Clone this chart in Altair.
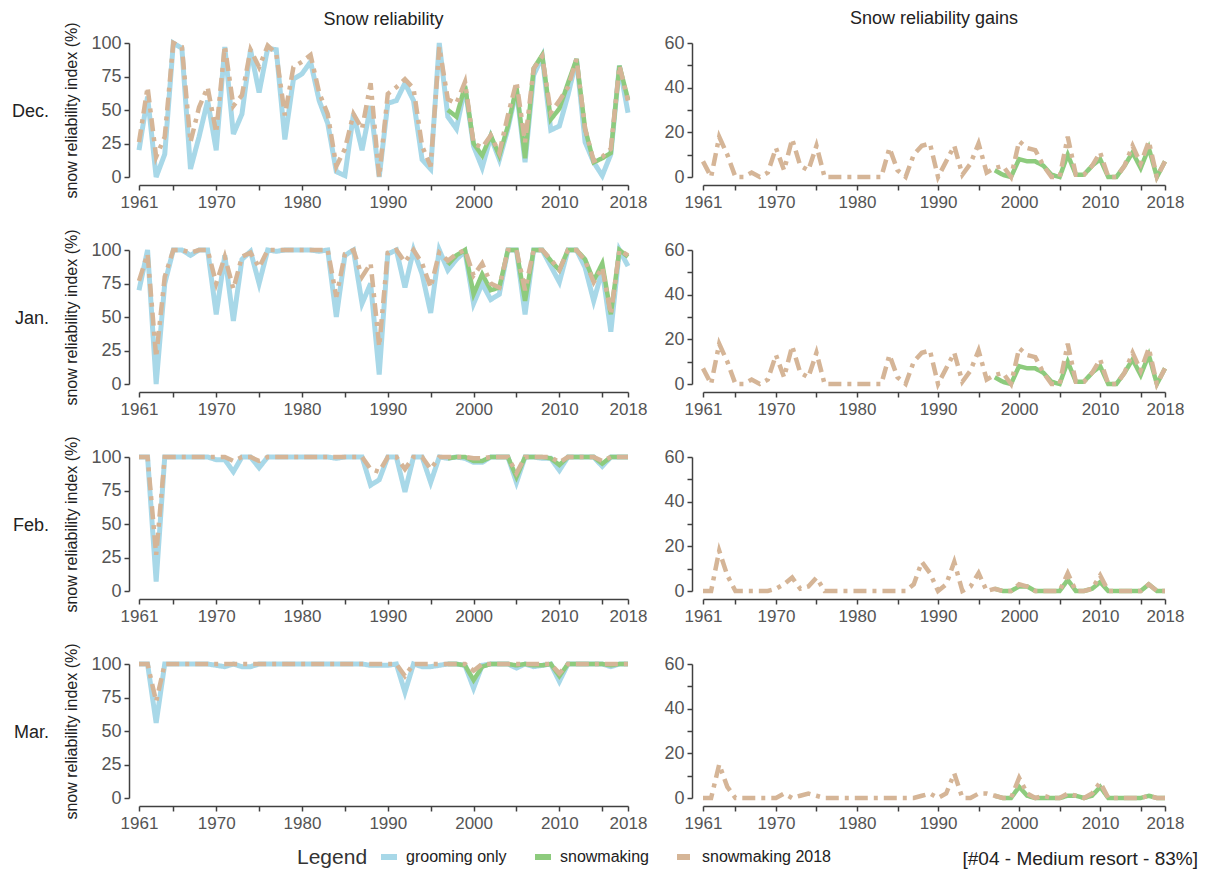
import altair as alt
import pandas as pd

# ---------------- data ----------------
years = list(range(1961, 2019))
sm_years = list(range(1997, 2019))
months = ["Dec.", "Jan.", "Feb.", "Mar."]
series_names = ["grooming only", "snowmaking", "snowmaking 2018"]
series_colors = ["#a8d8e8", "#8dcb7d", "#d5b597"]
series_dash = [[1, 0], [1, 0], [13, 6, 4, 6]]

x_tick_values = [1961, 1965, 1970, 1975, 1980, 1985, 1990, 1995, 2000, 2005, 2010, 2015, 2018]
x_label_values = [1961, 1970, 1980, 1990, 2000, 2010, 2018]
rel_ticks = [0, 25, 50, 75, 100]
gain_ticks = [0, 10, 20, 30, 40, 50, 60]
gain_label_values = [0, 20, 40, 60]

# snow reliability index (%), 1961-2018
dec_grooming = [20, 60, 0, 17, 100, 96, 6, 30, 57, 20,
                97, 32, 47, 95, 63, 96, 95, 28, 73, 77,
                86, 57, 40, 4, 1, 47, 20, 53, 0, 55,
                57, 70, 57, 13, 6, 100, 45, 36, 67, 23,
                7, 30, 13, 36, 65, 11, 76, 90, 35, 38,
                61, 88, 26, 11, 1, 17, 83, 48]
dec_sm2018 = [26, 67, 15, 30, 100, 97, 26, 52, 67, 33,
              98, 53, 61, 95, 82, 98, 92, 46, 82, 86,
              91, 63, 47, 8, 21, 47, 36, 70, 0, 62,
              67, 73, 66, 23, 8, 97, 58, 55, 71, 25,
              22, 31, 18, 46, 71, 26, 81, 90, 48, 57,
              67, 88, 36, 12, 15, 21, 83, 57]
dec_snowmaking = [50, 45, 68, 25, 16, 31, 16, 38, 67, 14, 81,
                  91, 43, 51, 70, 88, 36, 11, 14, 18, 83, 58]

jan_grooming = [70, 100, 0, 75, 100, 100, 96, 100, 100, 52,
                96, 47, 93, 99, 75, 100, 99, 100, 100, 100,
                100, 99, 100, 50, 96, 100, 60, 75, 7, 97,
                100, 72, 100, 82, 53, 100, 85, 93, 99, 60,
                75, 63, 67, 100, 100, 52, 100, 100, 88, 76,
                100, 100, 87, 62, 85, 39, 100, 88]
jan_sm2018 = [77, 97, 20, 80, 100, 100, 98, 100, 100, 75,
              95, 71, 95, 98, 87, 100, 100, 100, 100, 100,
              100, 100, 100, 65, 97, 100, 80, 90, 28, 98,
              100, 91, 100, 90, 72, 98, 92, 97, 100, 81,
              90, 75, 72, 100, 100, 70, 100, 100, 93, 85,
              100, 100, 92, 76, 87, 52, 100, 96]
jan_snowmaking = [89, 96, 100, 67, 82, 70, 72, 100, 100, 62, 100,
                  100, 92, 85, 100, 100, 93, 77, 90, 52, 100, 95]

feb_grooming = [100, 100, 7, 100, 100, 100, 100, 100, 100, 98,
                98, 89, 100, 100, 92, 100, 100, 100, 100, 100,
                100, 100, 100, 99, 100, 100, 100, 79, 83, 100,
                100, 74, 100, 100, 81, 100, 99, 100, 99, 96,
                96, 100, 100, 100, 81, 100, 100, 99, 99, 90,
                100, 100, 100, 100, 93, 100, 100, 100]
feb_sm2018 = [100, 100, 27, 100, 100, 100, 100, 100, 100, 100,
              100, 97, 100, 100, 97, 100, 100, 100, 100, 100,
              100, 100, 100, 100, 100, 100, 100, 91, 89, 100,
              100, 91, 100, 100, 91, 100, 100, 100, 100, 99,
              99, 100, 100, 100, 88, 100, 100, 100, 100, 96,
              100, 100, 100, 100, 97, 100, 100, 100]
feb_snowmaking = [99, 100, 100, 97, 97, 100, 100, 100, 85, 100, 100,
                  100, 99, 94, 100, 100, 100, 100, 95, 100, 100, 100]

mar_grooming = [100, 100, 56, 100, 100, 100, 100, 100, 100, 99,
                98, 100, 98, 98, 100, 100, 100, 100, 100, 100,
                100, 100, 100, 100, 100, 100, 100, 99, 99, 99,
                100, 79, 100, 98, 98, 99, 100, 100, 99, 82,
                99, 100, 100, 100, 97, 100, 98, 99, 100, 87,
                100, 100, 100, 100, 100, 98, 100, 100]
mar_sm2018 = [100, 100, 72, 100, 100, 100, 100, 100, 100, 100,
              100, 100, 100, 100, 100, 100, 100, 100, 100, 100,
              100, 100, 100, 100, 100, 100, 100, 100, 100, 100,
              100, 91, 100, 100, 100, 100, 100, 100, 100, 95,
              100, 100, 100, 100, 100, 100, 100, 100, 100, 93,
              100, 100, 100, 100, 100, 100, 100, 100]
mar_snowmaking = [100, 100, 99, 88, 98, 100, 100, 100, 99, 100, 99,
                  99, 100, 91, 100, 100, 100, 100, 100, 99, 100, 100]

# snow reliability gains (percentage points)
dec_gain_sm2018 = [7, 0, 18, 10, 0, 0, 2, 0, 2, 13,
                   3, 17, 5, 3, 14, 0, 0, 0, 0, 0,
                   0, 0, 0, 13, 3, 0, 10, 14, 15, 0,
                   7, 14, 1, 6, 15, 2, 4, 5, 0, 16,
                   13, 12, 5, 0, 0, 18, 1, 1, 5, 11,
                   0, 0, 5, 14, 6, 16, 0, 7]
dec_gain_snowmaking = [3, 1, 0, 8, 7, 7, 5, 1, 0, 10, 1,
                       1, 5, 8, 0, 0, 5, 11, 4, 13, 0, 7]
jan_gain_sm2018 = [7, 0, 18, 10, 0, 0, 2, 0, 2, 13,
                   3, 17, 5, 3, 14, 0, 0, 0, 0, 0,
                   0, 0, 0, 13, 3, 0, 10, 14, 15, 0,
                   7, 14, 1, 6, 15, 2, 4, 5, 0, 16,
                   13, 12, 5, 0, 0, 18, 1, 1, 5, 11,
                   0, 0, 5, 14, 6, 16, 0, 7]
jan_gain_snowmaking = [3, 1, 0, 8, 7, 7, 5, 1, 0, 10, 1,
                       1, 5, 8, 0, 0, 5, 11, 4, 13, 0, 7]
feb_gain_sm2018 = [0, 0, 18, 7, 0, 0, 0, 0, 0, 1,
                   3, 6, 1, 2, 6, 0, 0, 0, 0, 0,
                   0, 0, 0, 0, 0, 0, 3, 13, 8, 0,
                   3, 13, 0, 2, 8, 0, 1, 0, 0, 3,
                   2, 0, 0, 0, 0, 8, 0, 0, 1, 7,
                   0, 0, 0, 0, 0, 3, 0, 0]
feb_gain_snowmaking = [1, 0, 0, 2, 2, 0, 0, 0, 0, 5, 0,
                       0, 1, 4, 0, 0, 0, 0, 0, 3, 0, 0]
mar_gain_sm2018 = [0, 0, 15, 5, 0, 0, 0, 0, 0, 0,
                   2, 0, 1, 2, 1, 0, 0, 0, 0, 0,
                   0, 0, 0, 0, 0, 0, 0, 1, 2, 0,
                   2, 11, 0, 0, 2, 2, 1, 0, 0, 9,
                   2, 0, 1, 0, 0, 2, 1, 0, 2, 7,
                   0, 0, 0, 0, 0, 1, 0, 0]
mar_gain_snowmaking = [1, 0, 0, 5, 1, 0, 0, 0, 0, 1, 1,
                       0, 1, 5, 0, 0, 0, 0, 0, 1, 0, 0]

resort_label = "[#04 - Medium resort - 83%]"
col_titles = ["Snow reliability", "Snow reliability gains"]
y_title = "snow reliability index (%)"

# ---------------- tables ----------------
rel = {
    "Dec.": (dec_grooming, dec_snowmaking, dec_sm2018),
    "Jan.": (jan_grooming, jan_snowmaking, jan_sm2018),
    "Feb.": (feb_grooming, feb_snowmaking, feb_sm2018),
    "Mar.": (mar_grooming, mar_snowmaking, mar_sm2018),
}
gain = {
    "Dec.": (dec_gain_snowmaking, dec_gain_sm2018),
    "Jan.": (jan_gain_snowmaking, jan_gain_sm2018),
    "Feb.": (feb_gain_snowmaking, feb_gain_sm2018),
    "Mar.": (mar_gain_snowmaking, mar_gain_sm2018),
}


def frame(yrs, vals, name):
    return pd.DataFrame({"year": yrs, "value": vals, "series": name})


FONT = "Liberation Sans"
W_L, W_R, H = 489, 462, 134

color_scale = alt.Scale(domain=series_names, range=series_colors)
dash_scale = alt.Scale(domain=series_names, range=series_dash)
legend = alt.Legend(
    orient="none", legendX=158, legendY=803, direction="horizontal",
    title="Legend", titleOrient="left", titleFontSize=21, titleFontWeight="normal",
    titleColor="#333", titleFont=FONT, titleBaseline="middle", titlePadding=10,
    labelFontSize=16, labelColor="#222", labelFont=FONT,
    symbolType="stroke", symbolSize=256, symbolStrokeWidth=6, columnPadding=16,
    labelOffset=6,
)

x_label_expr = "indexof([" + ",".join(str(v) for v in x_label_values) + "], datum.value) >= 0 ? datum.label : ''"
gain_label_expr = "indexof([" + ",".join(str(v) for v in gain_label_values) + "], datum.value) >= 0 ? datum.label : ''"


def x_enc(offset):
    return alt.X("year:Q", scale=alt.Scale(domain=[1961, 2018], nice=False, zero=False),
                 axis=alt.Axis(values=x_tick_values, labelExpr=x_label_expr, format="d",
                               title=None, offset=offset, labelFlush=False, labelOverlap=False,
                               grid=False, labelPadding=4, labelFontSize=17))


def line_layer(df, name, xe, ye, width):
    return alt.Chart(df).mark_line(strokeWidth=width, strokeCap="butt").encode(
        x=xe, y=ye,
        color=alt.Color("series:N", scale=color_scale, legend=legend),
        strokeDash=alt.StrokeDash("series:N", scale=dash_scale, legend=legend),
    )


panels = []
for i, m in enumerate(months):
    g, s, t = rel[m]
    ye = alt.Y("value:Q", scale=alt.Scale(domain=[0, 100], nice=False),
               axis=alt.Axis(values=rel_ticks, title=y_title, offset=10, grid=False,
                             labelPadding=3, titlePadding=11, labelFontSize=18))
    xe = x_enc(8)
    layers = [
        line_layer(frame(years, g, series_names[0]), series_names[0], xe, ye, 5),
        line_layer(frame(sm_years, s, series_names[1]), series_names[1], xe, ye, 4.5),
        line_layer(frame(years, t, series_names[2]), series_names[2], xe, ye, 4.5),
        alt.Chart(pd.DataFrame({"label": [m]})).mark_text(
            align="right", baseline="middle", fontSize=18, font=FONT, color="#222"
        ).encode(text="label:N", x=alt.value(-90), y=alt.value(69)),
    ]
    left = alt.layer(*layers).properties(width=W_L, height=H)
    if i == 0:
        left = left.properties(title=alt.TitleParams(col_titles[0], frame="group", anchor="middle",
                                                     fontSize=18, fontWeight="normal", color="#222",
                                                     font=FONT, offset=-7))

    gs, gt = gain[m]
    ye2 = alt.Y("value:Q", scale=alt.Scale(domain=[0, 60], nice=False),
                axis=alt.Axis(values=gain_ticks, labelExpr=gain_label_expr, title=None,
                              offset=11, grid=False, labelPadding=3, labelFontSize=18))
    xe2 = x_enc(8)
    rlayers = [
        line_layer(frame(sm_years, gs, series_names[1]), series_names[1], xe2, ye2, 4.5),
        line_layer(frame(years, gt, series_names[2]), series_names[2], xe2, ye2, 4.5),
    ]
    if i == len(months) - 1:
        rlayers.append(alt.Chart(pd.DataFrame({"label": [resort_label]})).mark_text(
            align="right", baseline="middle", fontSize=19, font=FONT, color="#222"
        ).encode(text="label:N", x=alt.value(W_R + 33), y=alt.value(195)))
    right = alt.layer(*rlayers).properties(width=W_R, height=H)
    if i == 0:
        right = right.properties(title=alt.TitleParams(col_titles[1], frame="group", anchor="middle",
                                                       fontSize=18, fontWeight="normal", color="#222",
                                                       font=FONT, offset=6))
    panels += [left, right]

chart = alt.concat(*panels, columns=2, spacing=75, bounds="flush")
chart = chart.properties(spacing=alt.RowColnumber(row=73, column=75)) if hasattr(alt, "RowColnumber") else chart
chart = chart.properties(padding={"left": 3, "top": 2, "right": 5, "bottom": 5})

chart = chart.configure_axis(
    domainColor="#404040", tickColor="#404040", domainWidth=1.5, tickWidth=1.5, tickSize=5,
    labelColor="#555", labelFont=FONT, labelFontSize=17,
    titleColor="#222", titleFont=FONT, titleFontSize=16, titleFontWeight="normal",
).configure_view(stroke=None)

chart.save("out.html", embed_options={"renderer": "svg", "actions": False})
